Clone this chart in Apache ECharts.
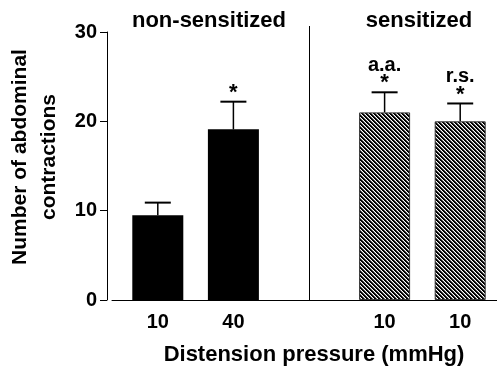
<!DOCTYPE html>
<html><head><meta charset="utf-8">
<script src="https://cdn.jsdelivr.net/npm/echarts@6/dist/echarts.min.js"></script>
<style>html,body{margin:0;padding:0;background:#fff}#c{width:497px;height:366px}</style>
</head><body><div id="c"></div>
<script>
// ---- data ----
const categories = ['10', '40', '', '10', '10'];
const means = [9.5, 19.1, null, 21.0, 20.0];
const sems = [1.4, 3.1, null, 2.25, 2.0];
const stars = ['', '*', '', '*', '*'];
const notes = ['', '', '', 'a.a.', 'r.s.'];
const groupOf = [0, 0, null, 1, 1];
const groups = ['non-sensitized', 'sensitized'];
const yTicks = [0, 10, 20, 30];
const xName = 'Distension pressure (mmHg)';
const yName = 'Number of abdominal\ncontractions';

const FONT = "'Liberation Sans', Arial, sans-serif";

function hatchCanvas() {
  const n = 4;
  const c = document.createElement('canvas');
  c.width = n; c.height = n;
  const g = c.getContext('2d');
  g.fillStyle = '#fff'; g.fillRect(0, 0, n, n);
  for (let y = 0; y < n; y++) for (let x = 0; x < n; x++) {
    const k = (((x - y) % n) + n) % n;
    if (k < 2) { g.fillStyle = '#000'; g.fillRect(x, y, 1, 1); }
    else if (k === 2) { g.fillStyle = '#777'; g.fillRect(x, y, 1, 1); }
  }
  return c;
}
const hatch = { image: hatchCanvas(), repeat: 'repeat' };

const barData = means.map((v, i) => {
  if (v == null) return '-';
  return groupOf[i] === 0
    ? { value: v, itemStyle: { color: '#000' } }
    : { value: v, itemStyle: { color: hatch, borderColor: '#333', borderWidth: 1 } };
});
const errData = means.map((v, i) => v == null ? null : [i, v, sems[i], i]).filter(d => d);

const chart = echarts.init(document.getElementById('c'), null, { renderer: 'canvas' });
chart.setOption({
  animation: false,
  backgroundColor: '#fff',
  grid: [
    { left: 120, width: 378, top: 32, bottom: 66, outerBoundsMode: 'none', containLabel: false },
    { left: 112, right: 0, top: 32, bottom: 66, outerBoundsMode: 'none', containLabel: false }
  ],
  xAxis: [
    {
      type: 'category', gridIndex: 0, data: categories,
      axisLine: { show: false }, axisTick: { show: false },
      axisLabel: { color: '#000', fontFamily: FONT, fontWeight: 'bold', fontSize: 20, margin: 12, interval: 0 },
      name: xName, nameLocation: 'middle', nameGap: 44,
      nameTextStyle: { color: '#000', fontFamily: FONT, fontWeight: 'bold', fontSize: 22, padding: [0, 0, 0, 10] }
    },
    {
      type: 'value', gridIndex: 1, min: 0, max: 1,
      axisLine: { show: true, onZero: false, lineStyle: { color: '#000', width: 1 } },
      axisTick: { show: false }, axisLabel: { show: false }, splitLine: { show: false }
    }
  ],
  yAxis: [
    {
      type: 'value', gridIndex: 0, min: yTicks[0], max: yTicks[yTicks.length - 1], interval: 10,
      offset: 13,
      axisLine: { show: true, lineStyle: { color: '#000', width: 1 } },
      axisTick: { show: true, length: 7, lineStyle: { color: '#000', width: 1 } },
      axisLabel: { color: '#000', fontFamily: FONT, fontWeight: 'bold', fontSize: 20, margin: 10 },
      splitLine: { show: false },
      name: yName, nameLocation: 'middle', nameGap: 34,
      nameTextStyle: { color: '#000', fontFamily: FONT, fontWeight: 'bold', fontSize: 21, lineHeight: 29, padding: [0, 0, 0, 18] }
    },
    { type: 'value', gridIndex: 1, show: false, min: 0, max: 1 }
  ],
  series: [
    {
      type: 'bar', xAxisIndex: 0, yAxisIndex: 0, data: barData, barWidth: 51
    },
    {
      type: 'custom', xAxisIndex: 0, yAxisIndex: 0, data: errData, z: 5,
      renderItem: function (params, api) {
        const x = api.value(0), m = api.value(1), e = api.value(2), idx = api.value(3);
        const base = api.coord([x, m]);
        const top = api.coord([x, m + e]);
        const hw = 13;
        const ch = [
          { type: 'line', shape: { x1: base[0], y1: base[1], x2: top[0], y2: top[1] }, style: { stroke: '#000', lineWidth: 1.5 } },
          { type: 'line', shape: { x1: top[0] - hw, y1: top[1], x2: top[0] + hw, y2: top[1] }, style: { stroke: '#000', lineWidth: 2 } }
        ];
        if (stars[idx]) ch.push({ type: 'text', x: top[0], y: top[1] - 9, style: { text: stars[idx], fill: '#000', font: 'bold 22px ' + FONT, align: 'center', verticalAlign: 'middle' } });
        if (notes[idx]) ch.push({ type: 'text', x: top[0], y: top[1] - 27, style: { text: notes[idx], fill: '#000', font: 'bold 20px ' + FONT, align: 'center', verticalAlign: 'middle' } });
        return { type: 'group', children: ch };
      }
    }
  ]
});

const divX = Math.round(chart.convertToPixel({ xAxisIndex: 0 }, 2)) + 0.5;
const y0 = chart.convertToPixel({ yAxisIndex: 0 }, 0);
chart.setOption({
  graphic: [
    { type: 'line', shape: { x1: divX, y1: 26, x2: divX, y2: y0 }, style: { stroke: '#000', lineWidth: 1 } },
    { type: 'text', x: 209, y: 21, style: { text: groups[0], fill: '#000', font: 'bold 22px ' + FONT, align: 'center', verticalAlign: 'middle' } },
    { type: 'text', x: 419, y: 21, style: { text: groups[1], fill: '#000', font: 'bold 22px ' + FONT, align: 'center', verticalAlign: 'middle' } }
  ]
});
</script>
</body></html>
